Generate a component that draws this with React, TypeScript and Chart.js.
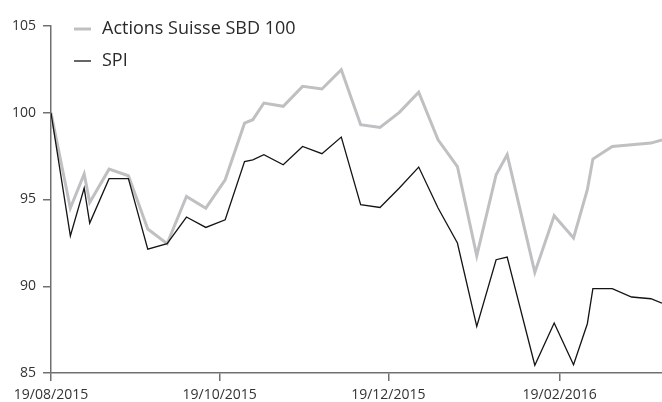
import React, { useEffect, useRef } from "react";
import { Chart, registerables } from "chart.js";

Chart.register(...registerables);

const startDate = "2015-08-19";
const dates = [
  "2015-08-19", "2015-08-26", "2015-08-31", "2015-09-02", "2015-09-09", "2015-09-16",
  "2015-09-23", "2015-09-30", "2015-10-07", "2015-10-14", "2015-10-21", "2015-10-28",
  "2015-10-31", "2015-11-04", "2015-11-11", "2015-11-18", "2015-11-25", "2015-12-02",
  "2015-12-09", "2015-12-16", "2015-12-23", "2015-12-30", "2016-01-06", "2016-01-13",
  "2016-01-20", "2016-01-27", "2016-01-31", "2016-02-10", "2016-02-17", "2016-02-24",
  "2016-02-29", "2016-03-02", "2016-03-09", "2016-03-16", "2016-03-23", "2016-03-27",
];
const actionsSuisse = [
  100, 94.5, 96.47, 94.83, 96.75, 96.37,
  93.3, 92.45, 95.18, 94.5, 96.14, 99.4,
  99.6, 100.56, 100.37, 101.52, 101.37, 102.48,
  99.31, 99.15, 100.02, 101.19, 98.44, 96.9,
  91.76, 96.43, 97.58, 90.8, 94.06, 92.78,
  95.56, 97.33, 98.06, 98.15, 98.25, 98.44,
];
const spi = [
  100, 92.9, 95.66, 93.64, 96.2, 96.2,
  92.14, 92.45, 93.99, 93.39, 93.83, 97.19,
  97.29, 97.58, 97.0, 98.06, 97.64, 98.6,
  94.7, 94.54, 95.66, 96.87, 94.51, 92.49,
  87.68, 91.53, 91.68, 85.45, 87.88, 85.48,
  87.84, 89.86, 89.86, 89.38, 89.28, 89.03,
];
const tickDates = ["2015-08-19", "2015-10-19", "2015-12-19", "2016-02-19"];
const tickLabels = ["19/08/2015", "19/10/2015", "19/12/2015", "19/02/2016"];
const endDate = "2016-03-27";
const seriesNames = ["Actions Suisse SBD 100", "SPI"];
const yTicks = [85, 90, 95, 100, 105];

const DAY = 86400000;
const dayOf = (d: string) =>
  Math.round((Date.parse(d + "T00:00:00Z") - Date.parse(startDate + "T00:00:00Z")) / DAY);

const FONT = '"Open Sans", sans-serif';

const legendPlugin = {
  id: "customLegend",
  afterDraw(chart: any) {
    const ctx = chart.ctx;
    ctx.save();
    chart.data.datasets.forEach((ds: any, i: number) => {
      const y = 29 + i * 32;
      ctx.strokeStyle = ds.borderColor;
      ctx.lineWidth = ds.borderWidth;
      ctx.beginPath();
      ctx.moveTo(74, y);
      ctx.lineTo(91, y);
      ctx.stroke();
      ctx.fillStyle = "#2a2a2a";
      ctx.font = `18px ${FONT}`;
      ctx.textBaseline = "middle";
      ctx.textAlign = "left";
      ctx.fillText(ds.label, 102, y);
    });
    ctx.restore();
  },
};

export default function App() {
  const ref = useRef<HTMLCanvasElement | null>(null);
  useEffect(() => {
    if (!ref.current) return;
    const xs = dates.map(dayOf);
    const chart = new Chart(ref.current, {
      type: "line",
      data: {
        datasets: [
          {
            label: seriesNames[0],
            data: xs.map((x, i) => ({ x, y: actionsSuisse[i] })),
            borderColor: "#c0c0c3",
            borderWidth: 3,
            pointRadius: 0,
            tension: 0,
            order: 1,
          },
          {
            label: seriesNames[1],
            data: xs.map((x, i) => ({ x, y: spi[i] })),
            borderColor: "#141414",
            borderWidth: 1.3,
            pointRadius: 0,
            tension: 0,
            order: 0,
          },
        ],
      },
      options: {
        animation: false,
        responsive: false,
        layout: { padding: { top: 26, left: 0, right: 0, bottom: 0 } },
        plugins: { legend: { display: false }, tooltip: { enabled: false } },
        scales: {
          x: {
            type: "linear",
            min: 0,
            max: dayOf(endDate),
            afterBuildTicks(scale: any) {
              scale.ticks = tickDates.map((d) => ({ value: dayOf(d) }));
            },
            afterFit(scale: any) {
              scale.height = 29;
            },
            grid: { drawOnChartArea: false, drawTicks: true, tickLength: 8, color: "#707070", lineWidth: 1.5 },
            border: { display: true, color: "#707070", width: 1.5 },
            ticks: {
              autoSkip: false,
              maxRotation: 0,
              padding: 6,
              color: "#333",
              font: { family: FONT, size: 14 },
              callback: (v: any) => {
                const idx = tickDates.findIndex((d) => dayOf(d) === v);
                return idx >= 0 ? tickLabels[idx] : "";
              },
            },
          },
          y: {
            min: 85,
            max: 105,
            afterBuildTicks(scale: any) {
              scale.ticks = yTicks.map((v) => ({ value: v }));
            },
            afterFit(scale: any) {
              scale.width = 51;
            },
            grid: { drawOnChartArea: false, drawTicks: true, tickLength: 8, color: "#707070", lineWidth: 1.5 },
            border: { display: true, color: "#707070", width: 1.5 },
            ticks: {
              padding: 7,
              color: "#333",
              font: { family: FONT, size: 14 },
            },
          },
        },
      },
      plugins: [legendPlugin],
    });
    return () => chart.destroy();
  }, []);
  return (
    <div style={{ position: "fixed", left: 0, top: 0, width: 662, height: 402, background: "#fff" }}>
      <canvas ref={ref} width={662} height={402} style={{ display: "block" }} />
    </div>
  );
}
